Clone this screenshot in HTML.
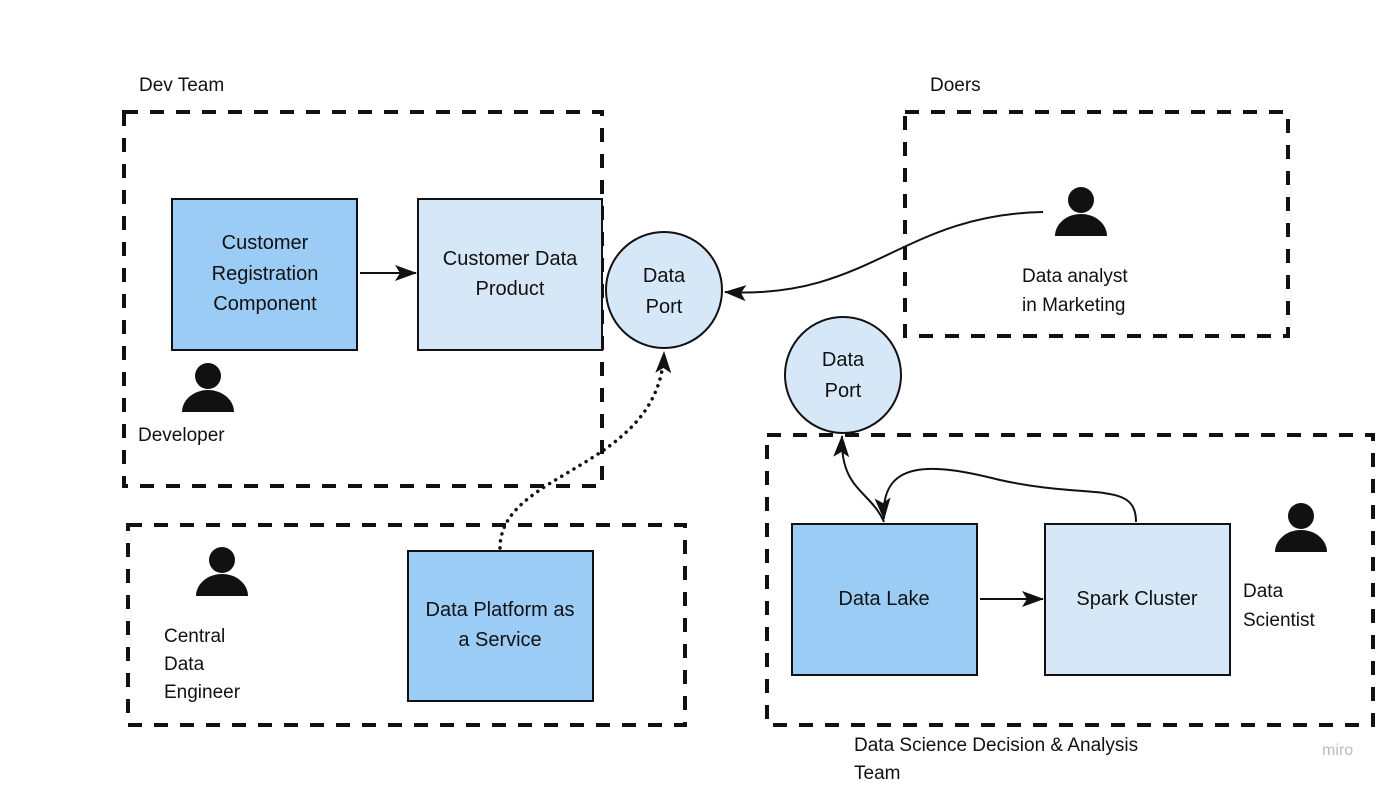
<!DOCTYPE html>
<html><head><meta charset="utf-8"><style>
html,body{margin:0;padding:0;background:#fff;}
svg{display:block;font-family:"Liberation Sans",sans-serif;}
</style></head><body>
<svg width="1400" height="789" viewBox="0 0 1400 789" xmlns="http://www.w3.org/2000/svg">
<defs>
<marker id="ah" markerWidth="22" markerHeight="16" refX="21" refY="8" orient="auto" markerUnits="userSpaceOnUse" viewBox="0 0 22 16">
<path d="M0,0 L22,8 L0,16 L5,8 Z" fill="#111"/></marker>
</defs>
<g fill="none" stroke="#111" stroke-width="4" stroke-dasharray="14,12">
<rect x="124" y="112" width="478" height="374"/>
<rect x="905" y="112" width="383" height="224"/>
<rect x="128" y="525" width="557" height="200"/>
<rect x="767" y="435" width="606" height="290"/>
</g>
<g font-size="19" fill="#111">
<text x="139" y="91">Dev Team</text>
<text x="930" y="91">Doers</text>
<text x="138" y="441">Developer</text>
<text x="1022" y="282">Data analyst</text>
<text x="1022" y="311">in Marketing</text>
<text x="164" y="642">Central</text>
<text x="164" y="670">Data</text>
<text x="164" y="698">Engineer</text>
<text x="1243" y="597">Data</text>
<text x="1243" y="626">Scientist</text>
<text x="854" y="751">Data Science Decision &amp; Analysis</text>
<text x="854" y="779">Team</text>
</g>
<text x="1322" y="755" font-size="16" fill="#bbb">miro</text>
<g stroke="#111" stroke-width="2">
<rect x="172" y="199" width="185" height="151" fill="#9ACCF5"/>
<rect x="418" y="199" width="184" height="151" fill="#D6E8F8"/>
<rect x="408" y="551" width="185" height="150" fill="#9ACCF5"/>
<rect x="792" y="524" width="185" height="151" fill="#9ACCF5"/>
<rect x="1045" y="524" width="185" height="151" fill="#D6E8F8"/>
<circle cx="664" cy="290" r="58" fill="#D6E8F8"/>
<circle cx="843" cy="375" r="58" fill="#D6E8F8"/>
</g>
<g font-size="20" fill="#111" text-anchor="middle">
<text x="265" y="249">Customer</text>
<text x="265" y="280">Registration</text>
<text x="265" y="310">Component</text>
<text x="510" y="265">Customer Data</text>
<text x="510" y="295">Product</text>
<text x="664" y="282">Data</text>
<text x="664" y="313">Port</text>
<text x="843" y="366">Data</text>
<text x="843" y="397">Port</text>
<text x="500" y="616">Data Platform as</text>
<text x="500" y="646">a Service</text>
<text x="884" y="605">Data Lake</text>
<text x="1137" y="605">Spark Cluster</text>
</g>
<g fill="none" stroke="#111" stroke-width="2">
<line x1="360" y1="273" x2="416" y2="273" marker-end="url(#ah)"/>
<line x1="980" y1="599" x2="1043" y2="599" marker-end="url(#ah)"/>
<path d="M1043,212 C900,215 870,300 725,292" marker-end="url(#ah)"/>
<path d="M500,548 C500,470 660,470 664,352" stroke-width="3.5" stroke-dasharray="0.1,7" stroke-linecap="round" marker-end="url(#ah)"/>
<path d="M884,522 C870,490 840,490 842,436" marker-end="url(#ah)"/>
<path d="M1136,522 C1136,480 1090,500 1000,480 C930,462 880,460 884,519" marker-end="url(#ah)"/>
</g>
<g fill="#111">
<circle cx="208" cy="376" r="13"/><path d="M182,412 A26,22 0 0 1 234,412 Z"/>
<circle cx="1081" cy="200" r="13"/><path d="M1055,236 A26,22 0 0 1 1107,236 Z"/>
<circle cx="222" cy="560" r="13"/><path d="M196,596 A26,22 0 0 1 248,596 Z"/>
<circle cx="1301" cy="516" r="13"/><path d="M1275,552 A26,22 0 0 1 1327,552 Z"/>
</g>
</svg>
</body></html>
